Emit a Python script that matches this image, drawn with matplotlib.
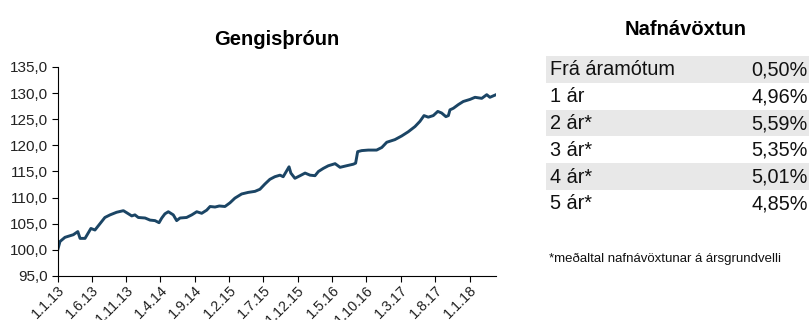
import datetime as dt
import matplotlib
matplotlib.use("Agg")
import matplotlib.pyplot as plt
import matplotlib.dates as mdates
from matplotlib.ticker import FuncFormatter, MultipleLocator

plt.rcParams['font.family'] = ['Liberation Sans', 'DejaVu Sans']

# gengisþróun sjóðsins (vísitala, 1.1.13 = 100)
dates = [
    "2013-01-02", "2013-01-12", "2013-02-03", "2013-02-25", "2013-03-12",
    "2013-04-01", "2013-04-11", "2013-05-03", "2013-05-29", "2013-06-16",
    "2013-07-30", "2013-08-22", "2013-09-20", "2013-10-20", "2013-11-04",
    "2013-11-26", "2013-12-10", "2013-12-25", "2014-01-24", "2014-02-15",
    "2014-03-09", "2014-03-27", "2014-04-08", "2014-04-22", "2014-05-07",
    "2014-05-29", "2014-06-13", "2014-06-28", "2014-07-27", "2014-08-19",
    "2014-09-10", "2014-10-02", "2014-10-24", "2014-11-08", "2014-11-30",
    "2014-12-19", "2015-01-13", "2015-02-04", "2015-02-26", "2015-03-28",
    "2015-04-26", "2015-05-26", "2015-06-17", "2015-07-09", "2015-07-31",
    "2015-08-22", "2015-09-14", "2015-09-28", "2015-10-24", "2015-11-01",
    "2015-11-19", "2015-12-12", "2016-01-03", "2016-01-25", "2016-02-16",
    "2016-03-02", "2016-03-24", "2016-04-15", "2016-05-15", "2016-06-06",
    "2016-07-05", "2016-08-04", "2016-08-14", "2016-08-23", "2016-09-10",
    "2016-10-09", "2016-10-31", "2016-11-15", "2016-12-08", "2016-12-30",
    "2017-02-04", "2017-03-06", "2017-04-04", "2017-05-04", "2017-05-26",
    "2017-06-13", "2017-07-02", "2017-07-24", "2017-08-13", "2017-08-30",
    "2017-09-18", "2017-09-29", "2017-10-06", "2017-10-21", "2017-11-12",
    "2017-12-04", "2018-01-03", "2018-01-25", "2018-02-24", "2018-03-18",
    "2018-04-01", "2018-04-28",
]
index_values = [
    100.0, 101.6, 102.4, 102.7, 102.9,
    103.5, 102.2, 102.2, 104.1, 103.8,
    106.2, 106.7, 107.2, 107.5, 107.1,
    106.5, 106.7, 106.2, 106.1, 105.7,
    105.6, 105.2, 106.1, 106.9, 107.3,
    106.7, 105.6, 106.1, 106.2, 106.7,
    107.3, 107.0, 107.6, 108.3, 108.2,
    108.4, 108.3, 109.0, 109.9, 110.7,
    111.0, 111.2, 111.6, 112.6, 113.5,
    114.0, 114.3, 114.0, 115.9, 114.7,
    113.7, 114.2, 114.7, 114.3, 114.2,
    115.0, 115.6, 116.1, 116.5, 115.8,
    116.1, 116.4, 116.6, 118.8, 119.0,
    119.1, 119.1, 119.1, 119.6, 120.6,
    121.1, 121.8, 122.6, 123.6, 124.6,
    125.7, 125.4, 125.7, 126.5, 126.2,
    125.5, 125.7, 126.8, 127.1, 127.8,
    128.4, 128.8, 129.2, 129.0, 129.7,
    129.2, 129.7,
]

# nafnávöxtun
period_labels = ["Frá áramótum", "1 ár", "2 ár*", "3 ár*", "4 ár*", "5 ár*"]
returns_pct = [0.50, 4.96, 5.59, 5.35, 5.01, 4.85]
footnote = "*meðaltal nafnávöxtunar á ársgrundvelli"

W, H = 809, 320
fig = plt.figure(figsize=(W / 100, H / 100), dpi=100)


def box(x0, y0, x1, y1):
    # pixel box (top-left origin) -> figure fraction rect
    return [x0 / W, 1 - y1 / H, (x1 - x0) / W, (y1 - y0) / H]


def fmt_date(v, pos=None):
    d = mdates.num2date(v)
    return f"{d.day}.{d.month}.{d:%y}"


# --- línurit ---
ax = fig.add_axes(box(57.5, 67, 496, 276))
x = [dt.datetime.strptime(d, "%Y-%m-%d") for d in dates]
ax.plot(x, index_values, color="#1b4565", lw=2.1, solid_joinstyle="round")

ax.set_ylim(95, 135)
ax.yaxis.set_major_locator(MultipleLocator(5))
ax.yaxis.set_major_formatter(FuncFormatter(lambda v, p: f"{v:.1f}".replace(".", ",")))
ax.set_xlim(dt.datetime(2013, 1, 1), x[-1])

# merki á 5 mánaða fresti frá 1.1.13
ticks = []
m = 0
while True:
    t = dt.datetime(2013 + m // 12, m % 12 + 1, 1)
    if t > x[-1]:
        break
    ticks.append(t)
    m += 5
ax.set_xticks(ticks)
ax.xaxis.set_major_formatter(FuncFormatter(fmt_date))

for s in ("top", "right"):
    ax.spines[s].set_visible(False)
for s in ("left", "bottom"):
    ax.spines[s].set_color("#000000")
    ax.spines[s].set_linewidth(0.8)
ax.tick_params(axis="both", direction="out", length=4, width=0.8, colors="#000000",
               labelcolor="#222222")
ax.tick_params(axis="y", pad=3, labelsize=11)
ax.tick_params(axis="x", pad=1, labelsize=10.4)
for lbl in ax.get_xticklabels():
    lbl.set_rotation(45)
    lbl.set_ha("right")
    lbl.set_rotation_mode("anchor")

fig.text((57.5 + 496) / 2 / W, 1 - 45 / H, "Gengisþróun", ha="center", va="baseline",
         fontsize=14.5, fontweight="bold")

# --- tafla ---
row_top, row_h = 56, 26.8
tab = fig.add_axes(box(546, row_top, 809, row_top + row_h * len(period_labels)))
tab.set_xlim(0, 1)
tab.set_ylim(len(period_labels), 0)
tab.axis("off")
for i, (lab, val) in enumerate(zip(period_labels, returns_pct)):
    if i % 2 == 0:
        tab.axhspan(i, i + 1, color="#e8e8e8", lw=0)
    tab.text(0.016, i + 0.52, lab, ha="left", va="center", fontsize=14.3, color="#111111")
    tab.text(0.995, i + 0.52, f"{val:.2f}%".replace(".", ","), ha="right", va="center",
             fontsize=14.3, color="#111111")

fig.text(686 / W, 1 - 35 / H, "Nafnávöxtun", ha="center", va="baseline",
         fontsize=14.5, fontweight="bold")
fig.text(549 / W, 1 - 259 / H, footnote, ha="left", va="center", fontsize=9.5, color="#111111")

fig.savefig("out.png", dpi=100)
